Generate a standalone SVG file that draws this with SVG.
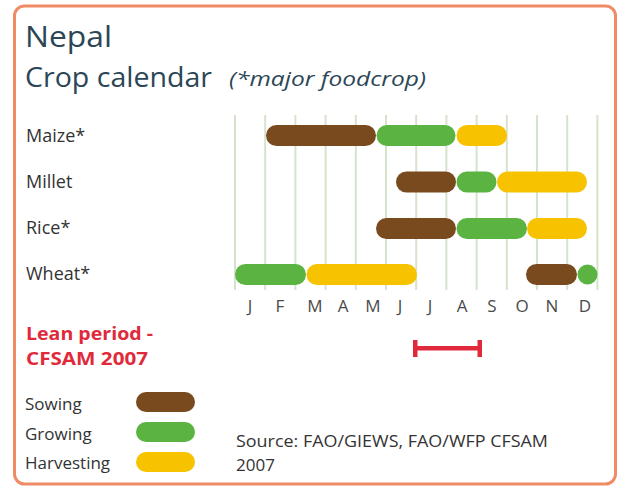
<svg xmlns="http://www.w3.org/2000/svg" width="622" height="488" viewBox="0 0 622 488">
<style>
.t{font-family:"Open Sans","Noto Sans","Liberation Sans",sans-serif}
.title{fill:#2c4656}
.lab{fill:#333;font-size:18px}
.mon{fill:#4a4a4a;font-size:17px;text-anchor:middle}
.leg{fill:#333;font-size:17px}
.red{fill:#e02a3c;font-size:18px;font-weight:bold}
.grid line{stroke:#d6e3cc;stroke-width:2}
.sow{fill:#7a4a1f}
.grow{fill:#5bb441}
.harv{fill:#f7c300}
</style>
<rect x="14.5" y="6" width="601" height="478" rx="10" fill="#fff" stroke="#ef8c66" stroke-width="3"/>
<g id="header">
<text class="t title" x="25" y="47" font-size="29" textLength="87" lengthAdjust="spacingAndGlyphs">Nepal</text>
<text class="t title" x="25" y="87" font-size="27" textLength="187" lengthAdjust="spacingAndGlyphs">Crop calendar</text>
<text class="t title" x="229" y="86" font-size="20" font-style="italic" textLength="197" lengthAdjust="spacingAndGlyphs">(*major foodcrop)</text>
</g>
<g id="grid" class="grid">
<line x1="235" y1="115" x2="235" y2="290"/>
<line x1="265.2" y1="115" x2="265.2" y2="290"/>
<line x1="295.4" y1="115" x2="295.4" y2="290"/>
<line x1="325.6" y1="115" x2="325.6" y2="290"/>
<line x1="355.8" y1="115" x2="355.8" y2="290"/>
<line x1="386" y1="115" x2="386" y2="290"/>
<line x1="416.2" y1="115" x2="416.2" y2="290"/>
<line x1="446.4" y1="115" x2="446.4" y2="290"/>
<line x1="476.6" y1="115" x2="476.6" y2="290"/>
<line x1="506.8" y1="115" x2="506.8" y2="290"/>
<line x1="537" y1="115" x2="537" y2="290"/>
<line x1="567.2" y1="115" x2="567.2" y2="290"/>
<line x1="597.4" y1="115" x2="597.4" y2="290"/>
</g>
<g id="maize">
<text class="t lab" x="26" y="142">Maize*</text>
<rect class="sow" x="266" y="125" width="110" height="21" rx="10.5"/>
<rect class="grow" x="376.5" y="125" width="79" height="21" rx="10.5"/>
<rect class="harv" x="456.5" y="125" width="50.5" height="21" rx="10.5"/>
</g>
<g id="millet">
<text class="t lab" x="26" y="188">Millet</text>
<rect class="sow" x="396" y="171.5" width="60" height="21" rx="10.5"/>
<rect class="grow" x="456.5" y="171.5" width="40" height="21" rx="10.5"/>
<rect class="harv" x="497" y="171.5" width="90" height="21" rx="10.5"/>
</g>
<g id="rice">
<text class="t lab" x="26" y="234">Rice*</text>
<rect class="sow" x="376" y="218" width="80" height="21" rx="10.5"/>
<rect class="grow" x="456.5" y="218" width="70.5" height="21" rx="10.5"/>
<rect class="harv" x="527" y="218" width="60" height="21" rx="10.5"/>
</g>
<g id="wheat">
<text class="t lab" x="26" y="280">Wheat*</text>
<rect class="grow" x="235" y="264" width="71" height="21" rx="10.5"/>
<rect class="harv" x="306.5" y="264" width="110.5" height="21" rx="10.5"/>
<rect class="sow" x="526" y="264" width="51" height="21" rx="10.5"/>
<circle class="grow" cx="587.5" cy="274.5" r="10"/>
</g>
<g id="months">
<text class="t mon" x="250" y="312">J</text>
<text class="t mon" x="280" y="312">F</text>
<text class="t mon" x="315" y="312">M</text>
<text class="t mon" x="343" y="312">A</text>
<text class="t mon" x="373" y="312">M</text>
<text class="t mon" x="400" y="312">J</text>
<text class="t mon" x="430" y="312">J</text>
<text class="t mon" x="462" y="312">A</text>
<text class="t mon" x="492" y="312">S</text>
<text class="t mon" x="522" y="312">O</text>
<text class="t mon" x="552" y="312">N</text>
<text class="t mon" x="585" y="312">D</text>
</g>
<g id="lean">
<text class="t red" x="26" y="340" textLength="127" lengthAdjust="spacingAndGlyphs">Lean period -</text>
<text class="t red" x="26" y="365" textLength="122" lengthAdjust="spacingAndGlyphs">CFSAM 2007</text>
<g fill="#e02a3c">
<rect x="415" y="346" width="65" height="4.5"/>
<rect x="413" y="340" width="4.5" height="17"/>
<rect x="477.5" y="340" width="4.5" height="17"/>
</g>
</g>
<g id="legend">
<text class="t leg" x="25" y="410">Sowing</text>
<rect class="sow" x="136" y="392" width="59" height="20" rx="10"/>
<text class="t leg" x="25" y="440">Growing</text>
<rect class="grow" x="136" y="422" width="59" height="20" rx="10"/>
<text class="t leg" x="25" y="469">Harvesting</text>
<rect class="harv" x="136" y="452" width="59" height="20" rx="10"/>
</g>
<g id="source">
<text class="t leg" x="236" y="447" font-size="16" textLength="312" lengthAdjust="spacingAndGlyphs">Source: FAO/GIEWS, FAO/WFP CFSAM</text>
<text class="t leg" x="236" y="471" font-size="16">2007</text>
</g>
</svg>
